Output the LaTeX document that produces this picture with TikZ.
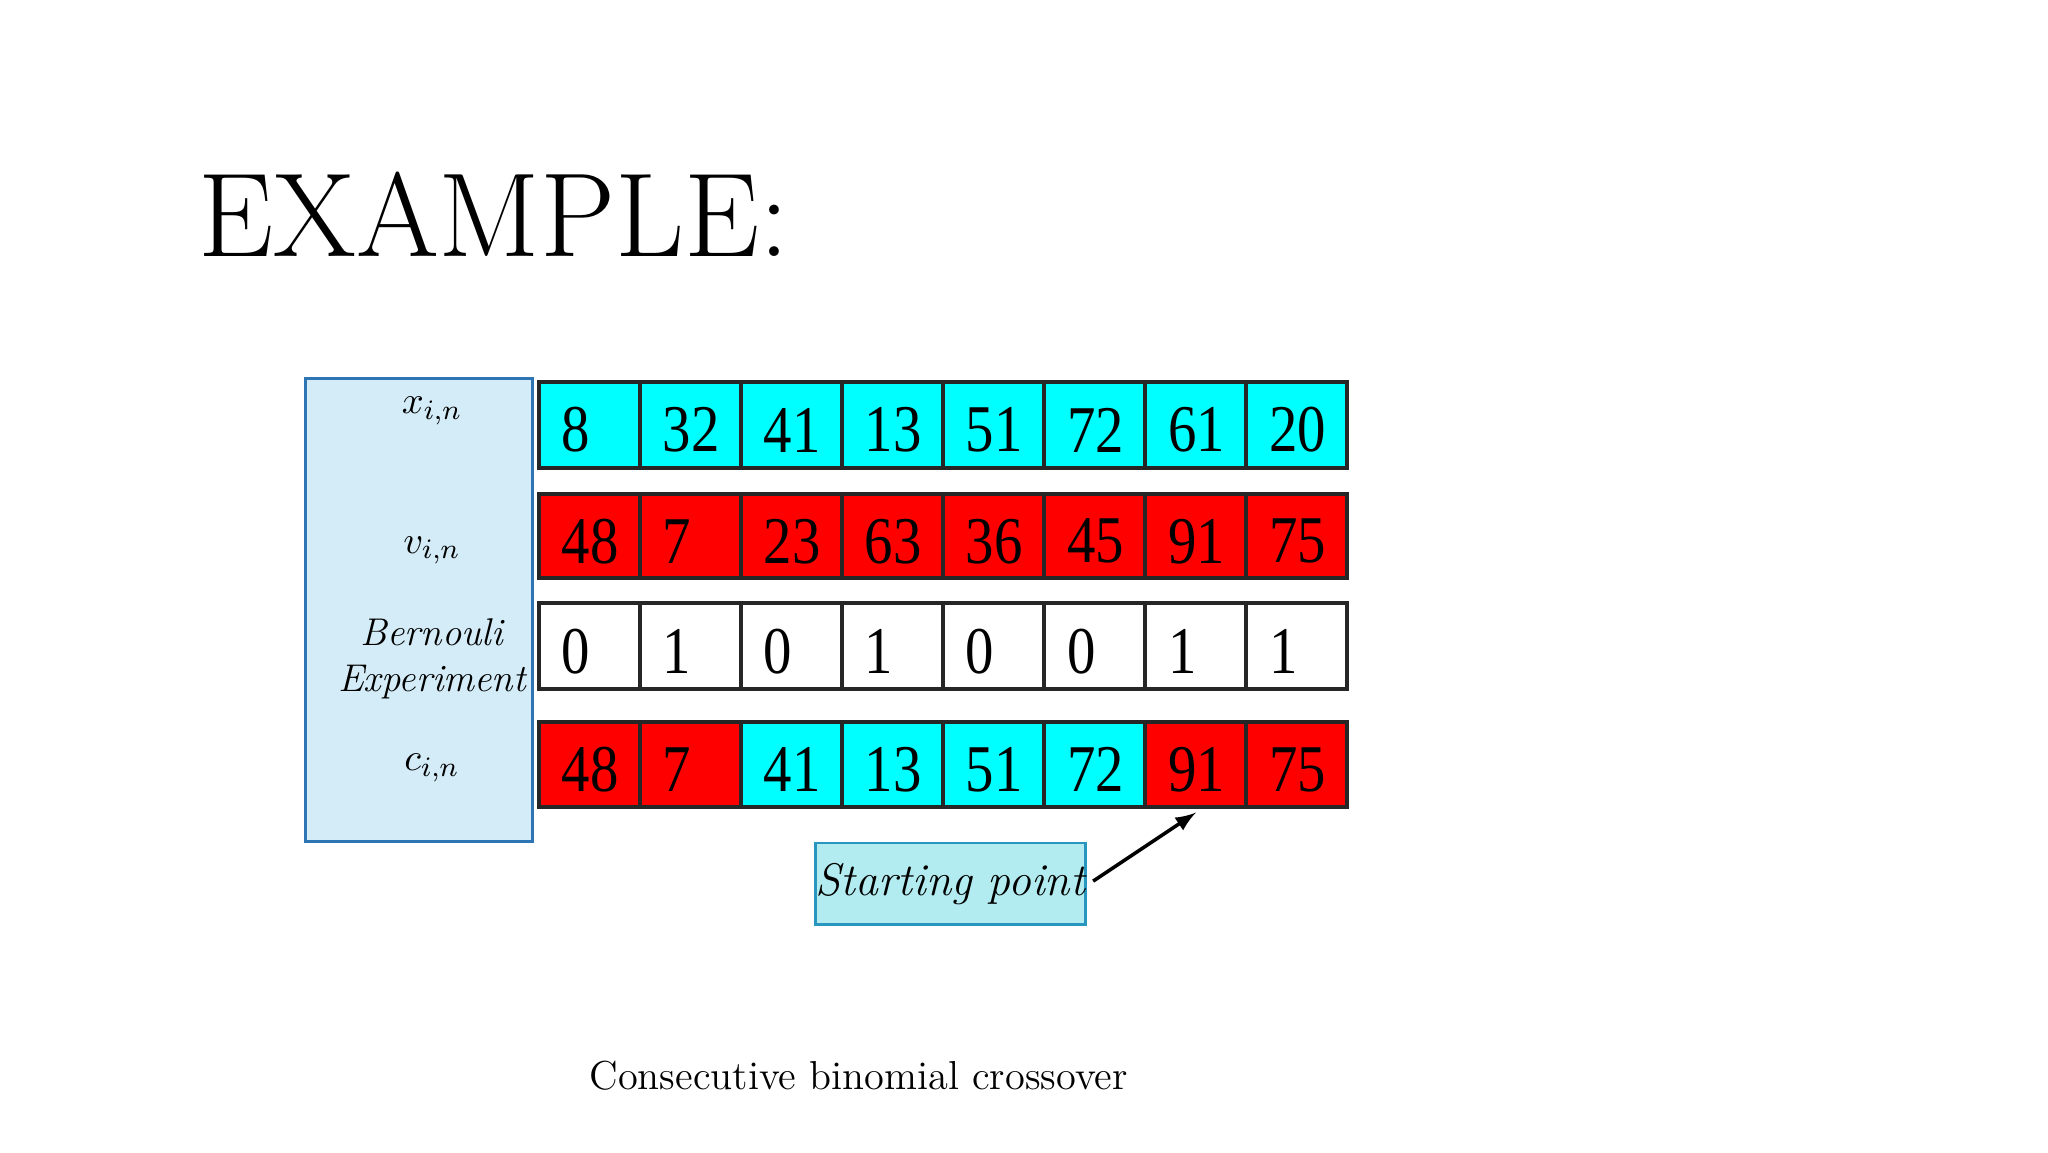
\documentclass[tikz,border=0pt]{standalone}
\usepackage{fontspec}
\newfontfamily\tms{Liberation Serif}
\definecolor{cy}{RGB}{0,255,255}
\definecolor{rd}{RGB}{255,0,0}
\definecolor{lb}{RGB}{212,236,247}
\definecolor{lbb}{RGB}{46,117,182}
\definecolor{sp}{RGB}{178,236,240}
\definecolor{spb}{RGB}{40,150,190}
\begin{document}
\begin{tikzpicture}[x=0.01317cm,y=-0.01317cm,
  cell/.style={draw=black!85,line width=1.1pt},
  num/.style={anchor=west,font=\tms\fontsize{19}{19}\selectfont,xscale=0.85,inner sep=0},
  lab/.style={font=\fontsize{11}{13}\selectfont\itshape}]
\useasboundingbox (0,0) rectangle (1555,875);
\node[anchor=base west,inner sep=0,font=\fontsize{34}{34}\selectfont] (title) at (150,195) {EXAMPLE:};
\node[draw=lbb,fill=lb,line width=0.8pt,minimum width=172*0.01317cm,minimum height=352*0.01317cm,anchor=north west,inner sep=0] (lbox) at (231,286) {};
\node[lab] (lx) at (328,312) {$x_{i,n}$};
\node[lab] (lv) at (328,418) {$v_{i,n}$};
\node[lab,align=center] (lbe) at (328,500) {Bernouli\\Experiment};
\node[lab] (lc) at (328,583) {$c_{i,n}$};
\def\cw{76.75}
\foreach \r/\yt/\yb/\vals/\cols in {
 1/290/355/{8,32,41,13,51,72,61,20}/{cy,cy,cy,cy,cy,cy,cy,cy},
 2/375/439/{48,7,23,63,36,45,91,75}/{rd,rd,rd,rd,rd,rd,rd,rd},
 3/458/523/{0,1,0,1,0,0,1,1}/{white,white,white,white,white,white,white,white},
 4/548/613/{48,7,41,13,51,72,91,75}/{rd,rd,cy,cy,cy,cy,rd,rd}}{
  \foreach \v [count=\i] in \vals {
    \pgfmathsetmacro\xl{409+(\i-1)*\cw}
    \pgfmathsetmacro\xr{409+\i*\cw}
    \pgfmathsetmacro\ym{(\yt+\yb)/2+4}
    \foreach \c [count=\j] in \cols {\ifnum\j=\i\xdef\cc{\c}\fi}
    \filldraw[cell,fill=\cc] (\xl,\yt) rectangle (\xr,\yb);
    \node[num] (n\r-\i) at (\xl+17,\ym) {\v};
  }
}
\coordinate (tip) at (908,617);
\node[draw=spb,fill=sp,line width=0.8pt,minimum width=205*0.01317cm,minimum height=62*0.01317cm,anchor=north west,inner sep=0] (spbox) at (618,639) {};
\node[lab,font=\fontsize{13}{13}\selectfont\itshape] (sptext) at (spbox.center) {Starting point};
\coordinate (tail) at (830,669);
\draw[-latex,line width=1pt] (tail) -- (tip);
\node[font=\fontsize{11.5}{12}\selectfont] (cap) at (652,817) {Consecutive binomial crossover};
\end{tikzpicture}
\end{document}
